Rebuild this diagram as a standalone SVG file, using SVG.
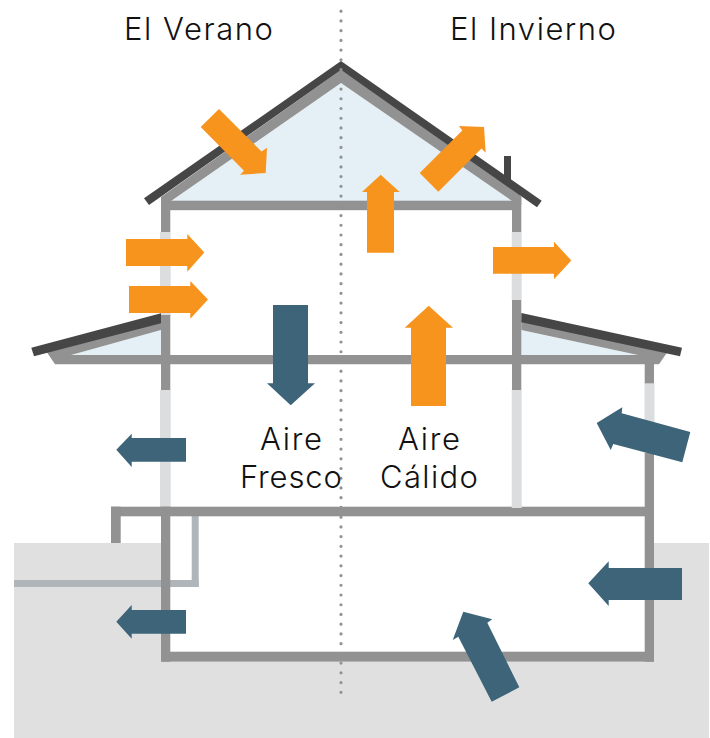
<svg xmlns="http://www.w3.org/2000/svg" width="710" height="738" viewBox="0 0 710 738">
<style>
.g{fill:#929292}.l{fill:#dcddde}.d{fill:#464646}.a{fill:#e5f0f6}.p{fill:#b0b5ba}
.o{fill:#f7941e}.b{fill:#3d6478}
text{font-family:"Inter","Liberation Sans",sans-serif;font-weight:300;font-size:31px;fill:#111;text-anchor:middle}
</style>
<rect width="710" height="738" fill="#fff"/>
<g id="ground">
<rect x="14" y="543" width="695" height="195" fill="#e0e0e0"/>
<rect x="161" y="507" width="493" height="155" fill="#fff"/>
</g>
<g id="house">
<polygon class="a" points="341,83 171,201 171,205 512,205 512,201"/>
<polygon class="a" points="71,355 161,330 161,360 71,360"/>
<polygon class="a" points="521,330 638,355 638,360 521,360"/>
<polygon class="g" points="341,70 517,190 521.3,197 521.3,205 512,201 341,83 171,201 161,205 161,197"/>
<rect class="g" x="161" y="200.7" width="360" height="9.5"/>
<rect class="g" x="161" y="197" width="9.3" height="35"/>
<rect class="l" x="160" y="232" width="10.7" height="84"/>
<rect class="g" x="161" y="315" width="9.3" height="75"/>
<rect class="l" x="160" y="390" width="10.7" height="118"/>
<rect class="g" x="512" y="197" width="9.3" height="35"/>
<rect class="l" x="511.7" y="232" width="10" height="68"/>
<rect class="g" x="512" y="300" width="9.3" height="90"/>
<polygon class="g" points="46.7,352 161,322 161,330 71,355 658,355 638,355 521.3,330 521.3,320 666.7,353 659,364.3 55,364.3"/>
<rect class="g" x="644.7" y="364" width="9.3" height="20"/>
<rect class="l" x="644.5" y="383.3" width="10" height="70"/>
<rect class="p" x="191.7" y="516" width="7" height="71"/>
<rect class="p" x="14" y="580" width="184.7" height="7"/>
<rect class="g" x="111" y="506.7" width="543" height="9.6"/>
<rect class="g" x="111" y="506.7" width="9.7" height="36.3"/>
<rect class="l" x="511.7" y="390" width="10" height="118"/>
<rect class="g" x="161" y="506.7" width="9.3" height="155"/>
<rect class="g" x="644.7" y="453" width="9.3" height="208.7"/>
<rect class="g" x="161" y="651.7" width="493" height="10"/>
<rect class="d" x="504" y="156" width="7" height="24"/>
<polygon class="d" points="341,61 541.7,200.7 537,207.3 341,70 149,205 144,198.3"/>
<polygon class="d" points="31.3,347.7 161,313.3 161,323.3 34,356.3"/>
<polygon class="d" points="521.3,313 682,347.7 680,356.3 521.3,322.3"/>
</g>
<g id="divider">
<line x1="341" y1="11.2" x2="341" y2="702" stroke="#929292" stroke-width="3.2" stroke-linecap="round" stroke-dasharray="0 9.73"/>
</g>
<g id="connectors">
<polygon class="o" points="219,109 261.5,151.5 267,147.7 265.7,173 240,174.7 244,170.7 200.7,127"/>
<polygon class="o" points="126,239 187.3,239 187.3,234 204.3,252.5 187.3,271.7 187.3,266 126,266"/>
<polygon class="o" points="129,286 190.3,286 190.3,281 208,299.5 190.3,318.7 190.3,313 129,313"/>
<polygon class="o" points="367,252.7 367,192 362,192 380.7,174.7 399.7,192 394,192 394,252.7"/>
<polygon class="o" points="411,406 411,327.7 404.7,327.7 428.7,305.7 453,327.7 446,327.7 446,406"/>
<polygon class="o" points="419.7,173 462.3,130.5 459,126 484,127 485.7,152.7 481.5,148.5 438.3,191.7"/>
<polygon class="o" points="493,247 554,247 554,241.7 571.3,260.5 554,279.3 554,273.7 493,273.7"/>
<polygon class="b" points="273,305 308,305 308,383.3 315,383.3 290.7,405.3 267,383.3 273,383.3"/>
<polygon class="b" points="186,438 131.7,438 131.7,433.7 116.3,449.7 131.7,467 131.7,461.7 186,461.7"/>
<polygon class="b" points="186,610 131.7,610 131.7,605 116.3,621.7 131.7,638.7 131.7,633.7 186,633.7"/>
<polygon class="b" points="690.3,432 621.7,413.3 622.3,407.3 596.7,423 610.7,450 613.3,444 682.3,462.3"/>
<polygon class="b" points="682,568 608.7,568 608.7,561.3 588.3,583.3 608.7,606 608.7,600 682,600"/>
<polygon class="b" points="491.7,701.7 519.3,687.3 487.3,622.7 492.3,619.3 463.3,611.7 452.7,640 458.3,636.7"/>
</g>
<g id="labels">
<text x="198.5" y="40" textLength="149">El Verano</text>
<text x="533" y="40" textLength="166">El Invierno</text>
<text x="291" y="450" textLength="62">Aire</text>
<text x="291" y="487.5" textLength="102">Fresco</text>
<text x="429" y="450" textLength="62">Aire</text>
<text x="429" y="487.5" textLength="98">Cálido</text>
</g>
</svg>
